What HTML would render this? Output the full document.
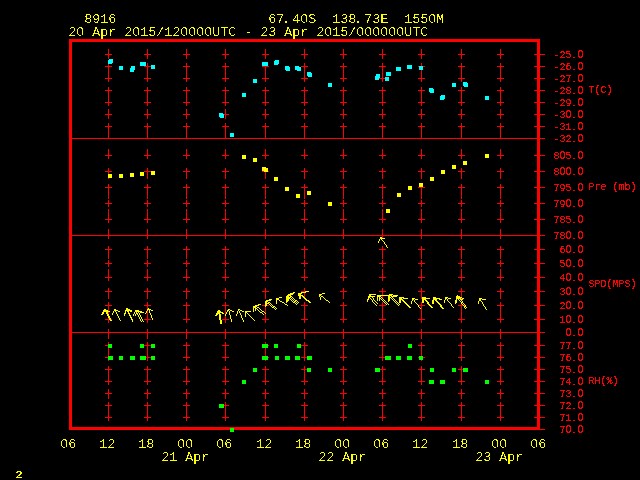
<!DOCTYPE html>
<html><head><meta charset="utf-8"><style>
html,body{margin:0;padding:0;background:#000;width:640px;height:480px;overflow:hidden}
svg{display:block}
text{font-family:"Liberation Mono",monospace;white-space:pre}
</style></head><body>
<svg width="640" height="480" viewBox="0 0 640 480">
<rect width="640" height="480" fill="#000"/>
<g shape-rendering="crispEdges"><path fill="#f00" d="M69 39h471v3h-471zM69 427h471v1h-471zM69 42h3v96h-3zM69 139h3v96h-3zM69 236h3v96h-3zM69 333h3v94h-3zM537 42h3v12h-3zM537 55h3v11h-3zM537 67h3v11h-3zM537 79h3v11h-3zM537 91h3v11h-3zM537 103h3v11h-3zM537 115h3v11h-3zM537 127h3v11h-3zM537 139h3v16h-3zM537 156h3v15h-3zM537 172h3v15h-3zM537 188h3v15h-3zM537 204h3v15h-3zM537 220h3v15h-3zM537 236h3v13h-3zM537 250h3v13h-3zM537 264h3v13h-3zM537 278h3v13h-3zM537 292h3v13h-3zM537 306h3v13h-3zM537 320h3v12h-3zM537 333h3v12h-3zM537 346h3v11h-3zM537 358h3v11h-3zM537 370h3v11h-3zM537 382h3v11h-3zM537 394h3v11h-3zM537 406h3v11h-3zM537 418h3v9h-3zM108 49h1v5h-1zM108 55h1v4h-1zM108 64h1v2h-1zM108 67h1v11h-1zM108 79h1v3h-1zM108 87h1v3h-1zM108 91h1v11h-1zM108 103h1v3h-1zM108 109h1v5h-1zM108 115h1v4h-1zM108 123h1v3h-1zM108 127h1v11h-1zM108 149h1v6h-1zM108 156h1v3h-1zM108 168h1v3h-1zM108 172h1v2h-1zM108 178h1v1h-1zM108 184h1v3h-1zM108 188h1v11h-1zM108 200h1v3h-1zM108 204h1v3h-1zM108 209h1v10h-1zM108 220h1v3h-1zM108 229h1v6h-1zM108 236h1v3h-1zM108 246h1v3h-1zM108 250h1v9h-1zM108 260h1v3h-1zM108 264h1v3h-1zM108 269h1v8h-1zM108 278h1v3h-1zM108 288h1v3h-1zM108 292h1v7h-1zM108 302h1v3h-1zM108 306h1v5h-1zM108 312h1v2h-1zM108 318h1v1h-1zM108 320h1v3h-1zM108 329h1v3h-1zM108 333h1v6h-1zM108 342h1v2h-1zM108 348h1v8h-1zM108 360h1v1h-1zM108 366h1v3h-1zM108 370h1v11h-1zM108 382h1v3h-1zM108 389h1v4h-1zM108 394h1v5h-1zM108 402h1v3h-1zM108 406h1v11h-1zM108 418h1v3h-1zM147 49h1v5h-1zM147 55h1v4h-1zM147 63h1v3h-1zM147 67h1v11h-1zM147 79h1v3h-1zM147 87h1v3h-1zM147 91h1v11h-1zM147 103h1v3h-1zM147 109h1v5h-1zM147 115h1v4h-1zM147 123h1v3h-1zM147 127h1v11h-1zM147 149h1v6h-1zM147 156h1v3h-1zM147 168h1v3h-1zM147 172h1v7h-1zM147 184h1v3h-1zM147 188h1v11h-1zM147 200h1v3h-1zM147 204h1v3h-1zM147 209h1v10h-1zM147 220h1v3h-1zM147 229h1v6h-1zM147 236h1v3h-1zM147 246h1v3h-1zM147 250h1v9h-1zM147 260h1v3h-1zM147 264h1v3h-1zM147 269h1v8h-1zM147 278h1v3h-1zM147 288h1v3h-1zM147 292h1v7h-1zM147 302h1v3h-1zM147 306h1v3h-1zM147 311h1v8h-1zM147 320h1v3h-1zM147 329h1v3h-1zM147 333h1v6h-1zM147 342h1v3h-1zM147 346h1v11h-1zM147 358h1v3h-1zM147 366h1v3h-1zM147 370h1v11h-1zM147 382h1v3h-1zM147 389h1v4h-1zM147 394h1v5h-1zM147 402h1v3h-1zM147 406h1v11h-1zM147 418h1v3h-1zM186 49h1v5h-1zM186 55h1v4h-1zM186 63h1v3h-1zM186 67h1v11h-1zM186 79h1v3h-1zM186 87h1v3h-1zM186 91h1v11h-1zM186 103h1v3h-1zM186 109h1v5h-1zM186 115h1v4h-1zM186 123h1v3h-1zM186 127h1v11h-1zM186 149h1v6h-1zM186 156h1v3h-1zM186 168h1v3h-1zM186 172h1v7h-1zM186 184h1v3h-1zM186 188h1v11h-1zM186 200h1v3h-1zM186 204h1v3h-1zM186 209h1v10h-1zM186 220h1v3h-1zM186 229h1v6h-1zM186 236h1v3h-1zM186 246h1v3h-1zM186 250h1v9h-1zM186 260h1v3h-1zM186 264h1v3h-1zM186 269h1v8h-1zM186 278h1v3h-1zM186 288h1v3h-1zM186 292h1v7h-1zM186 302h1v3h-1zM186 306h1v13h-1zM186 320h1v3h-1zM186 329h1v3h-1zM186 333h1v6h-1zM186 342h1v3h-1zM186 346h1v11h-1zM186 358h1v3h-1zM186 366h1v3h-1zM186 370h1v11h-1zM186 382h1v3h-1zM186 389h1v4h-1zM186 394h1v5h-1zM186 402h1v3h-1zM186 406h1v11h-1zM186 418h1v3h-1zM225 49h1v5h-1zM225 55h1v4h-1zM225 63h1v3h-1zM225 67h1v11h-1zM225 79h1v3h-1zM225 87h1v3h-1zM225 91h1v11h-1zM225 103h1v3h-1zM225 109h1v5h-1zM225 115h1v4h-1zM225 123h1v3h-1zM225 127h1v11h-1zM225 149h1v6h-1zM225 156h1v3h-1zM225 168h1v3h-1zM225 172h1v7h-1zM225 184h1v3h-1zM225 188h1v11h-1zM225 200h1v3h-1zM225 204h1v3h-1zM225 209h1v10h-1zM225 220h1v3h-1zM225 229h1v6h-1zM225 236h1v3h-1zM225 246h1v3h-1zM225 250h1v9h-1zM225 260h1v3h-1zM225 264h1v3h-1zM225 269h1v8h-1zM225 278h1v3h-1zM225 288h1v3h-1zM225 292h1v7h-1zM225 302h1v3h-1zM225 306h1v8h-1zM225 316h1v3h-1zM225 320h1v3h-1zM225 329h1v3h-1zM225 333h1v6h-1zM225 342h1v3h-1zM225 346h1v11h-1zM225 358h1v3h-1zM225 366h1v3h-1zM225 370h1v11h-1zM225 382h1v3h-1zM225 389h1v4h-1zM225 394h1v5h-1zM225 402h1v3h-1zM225 406h1v11h-1zM225 418h1v3h-1zM265 49h1v5h-1zM265 55h1v4h-1zM265 67h1v11h-1zM265 79h1v3h-1zM265 87h1v3h-1zM265 91h1v11h-1zM265 103h1v3h-1zM265 109h1v5h-1zM265 115h1v4h-1zM265 123h1v3h-1zM265 127h1v11h-1zM265 149h1v6h-1zM265 156h1v3h-1zM265 172h1v7h-1zM265 184h1v3h-1zM265 188h1v11h-1zM265 200h1v3h-1zM265 204h1v3h-1zM265 209h1v10h-1zM265 220h1v3h-1zM265 229h1v6h-1zM265 236h1v3h-1zM265 246h1v3h-1zM265 250h1v9h-1zM265 260h1v3h-1zM265 264h1v3h-1zM265 269h1v8h-1zM265 278h1v3h-1zM265 288h1v3h-1zM265 292h1v7h-1zM265 307h1v6h-1zM265 314h1v5h-1zM265 320h1v3h-1zM265 329h1v3h-1zM265 333h1v6h-1zM265 342h1v2h-1zM265 348h1v8h-1zM265 360h1v1h-1zM265 366h1v3h-1zM265 370h1v11h-1zM265 382h1v3h-1zM265 389h1v4h-1zM265 394h1v5h-1zM265 402h1v3h-1zM265 406h1v11h-1zM265 418h1v3h-1zM304 49h1v5h-1zM304 55h1v4h-1zM304 63h1v3h-1zM304 67h1v11h-1zM304 79h1v3h-1zM304 87h1v3h-1zM304 91h1v11h-1zM304 103h1v3h-1zM304 109h1v5h-1zM304 115h1v4h-1zM304 123h1v3h-1zM304 127h1v11h-1zM304 149h1v6h-1zM304 156h1v3h-1zM304 168h1v3h-1zM304 172h1v7h-1zM304 184h1v3h-1zM304 188h1v11h-1zM304 200h1v3h-1zM304 204h1v3h-1zM304 209h1v10h-1zM304 220h1v3h-1zM304 229h1v6h-1zM304 236h1v3h-1zM304 246h1v3h-1zM304 250h1v9h-1zM304 260h1v3h-1zM304 264h1v3h-1zM304 269h1v8h-1zM304 278h1v3h-1zM304 288h1v3h-1zM304 293h1v4h-1zM304 302h1v3h-1zM304 306h1v13h-1zM304 320h1v3h-1zM304 329h1v3h-1zM304 333h1v6h-1zM304 342h1v3h-1zM304 346h1v11h-1zM304 358h1v3h-1zM304 366h1v3h-1zM304 370h1v11h-1zM304 382h1v3h-1zM304 389h1v4h-1zM304 394h1v5h-1zM304 402h1v3h-1zM304 406h1v11h-1zM304 418h1v3h-1zM343 49h1v5h-1zM343 55h1v4h-1zM343 63h1v3h-1zM343 67h1v11h-1zM343 79h1v3h-1zM343 87h1v3h-1zM343 91h1v11h-1zM343 103h1v3h-1zM343 109h1v5h-1zM343 115h1v4h-1zM343 123h1v3h-1zM343 127h1v11h-1zM343 149h1v6h-1zM343 156h1v3h-1zM343 168h1v3h-1zM343 172h1v7h-1zM343 184h1v3h-1zM343 188h1v11h-1zM343 200h1v3h-1zM343 204h1v3h-1zM343 209h1v10h-1zM343 220h1v3h-1zM343 229h1v6h-1zM343 236h1v3h-1zM343 246h1v3h-1zM343 250h1v9h-1zM343 260h1v3h-1zM343 264h1v3h-1zM343 269h1v8h-1zM343 278h1v3h-1zM343 288h1v3h-1zM343 292h1v7h-1zM343 302h1v3h-1zM343 306h1v13h-1zM343 320h1v3h-1zM343 329h1v3h-1zM343 333h1v6h-1zM343 342h1v3h-1zM343 346h1v11h-1zM343 358h1v3h-1zM343 366h1v3h-1zM343 370h1v11h-1zM343 382h1v3h-1zM343 389h1v4h-1zM343 394h1v5h-1zM343 402h1v3h-1zM343 406h1v11h-1zM343 418h1v3h-1zM382 49h1v5h-1zM382 55h1v4h-1zM382 63h1v3h-1zM382 67h1v11h-1zM382 79h1v3h-1zM382 87h1v3h-1zM382 91h1v11h-1zM382 103h1v3h-1zM382 109h1v5h-1zM382 115h1v4h-1zM382 123h1v3h-1zM382 127h1v11h-1zM382 149h1v6h-1zM382 156h1v3h-1zM382 168h1v3h-1zM382 172h1v7h-1zM382 184h1v3h-1zM382 188h1v11h-1zM382 200h1v3h-1zM382 204h1v3h-1zM382 209h1v10h-1zM382 220h1v3h-1zM382 229h1v6h-1zM382 236h1v2h-1zM382 246h1v3h-1zM382 250h1v9h-1zM382 260h1v3h-1zM382 264h1v3h-1zM382 269h1v8h-1zM382 278h1v3h-1zM382 288h1v3h-1zM382 292h1v3h-1zM382 296h1v2h-1zM382 302h1v3h-1zM382 306h1v13h-1zM382 320h1v3h-1zM382 329h1v3h-1zM382 333h1v6h-1zM382 342h1v3h-1zM382 346h1v11h-1zM382 358h1v3h-1zM382 366h1v3h-1zM382 370h1v11h-1zM382 382h1v3h-1zM382 389h1v4h-1zM382 394h1v5h-1zM382 402h1v3h-1zM382 406h1v11h-1zM382 418h1v3h-1zM421 49h1v5h-1zM421 55h1v4h-1zM421 63h1v3h-1zM421 70h1v8h-1zM421 79h1v3h-1zM421 87h1v3h-1zM421 91h1v11h-1zM421 103h1v3h-1zM421 109h1v5h-1zM421 115h1v4h-1zM421 123h1v3h-1zM421 127h1v11h-1zM421 149h1v6h-1zM421 156h1v3h-1zM421 168h1v3h-1zM421 172h1v7h-1zM421 188h1v11h-1zM421 200h1v3h-1zM421 204h1v3h-1zM421 209h1v10h-1zM421 220h1v3h-1zM421 229h1v6h-1zM421 236h1v3h-1zM421 246h1v3h-1zM421 250h1v9h-1zM421 260h1v3h-1zM421 264h1v3h-1zM421 269h1v8h-1zM421 278h1v3h-1zM421 288h1v3h-1zM421 292h1v7h-1zM421 302h1v3h-1zM421 306h1v13h-1zM421 320h1v3h-1zM421 329h1v3h-1zM421 333h1v6h-1zM421 342h1v3h-1zM421 346h1v10h-1zM421 360h1v1h-1zM421 366h1v3h-1zM421 370h1v11h-1zM421 382h1v3h-1zM421 389h1v4h-1zM421 394h1v5h-1zM421 402h1v3h-1zM421 406h1v11h-1zM421 418h1v3h-1zM461 49h1v5h-1zM461 55h1v4h-1zM461 63h1v3h-1zM461 67h1v11h-1zM461 79h1v3h-1zM461 87h1v3h-1zM461 91h1v11h-1zM461 103h1v3h-1zM461 109h1v5h-1zM461 115h1v4h-1zM461 123h1v3h-1zM461 127h1v11h-1zM461 149h1v6h-1zM461 156h1v3h-1zM461 168h1v3h-1zM461 172h1v7h-1zM461 184h1v3h-1zM461 188h1v11h-1zM461 200h1v3h-1zM461 204h1v3h-1zM461 209h1v10h-1zM461 220h1v3h-1zM461 229h1v6h-1zM461 236h1v3h-1zM461 246h1v3h-1zM461 250h1v9h-1zM461 260h1v3h-1zM461 264h1v3h-1zM461 269h1v8h-1zM461 278h1v3h-1zM461 288h1v3h-1zM461 292h1v5h-1zM461 298h1v1h-1zM461 304h1v1h-1zM461 306h1v13h-1zM461 320h1v3h-1zM461 329h1v3h-1zM461 333h1v6h-1zM461 342h1v3h-1zM461 346h1v11h-1zM461 358h1v3h-1zM461 366h1v3h-1zM461 370h1v11h-1zM461 382h1v3h-1zM461 389h1v4h-1zM461 394h1v5h-1zM461 402h1v3h-1zM461 406h1v11h-1zM461 418h1v3h-1zM500 49h1v5h-1zM500 55h1v4h-1zM500 63h1v3h-1zM500 67h1v11h-1zM500 79h1v3h-1zM500 87h1v3h-1zM500 91h1v11h-1zM500 103h1v3h-1zM500 109h1v5h-1zM500 115h1v4h-1zM500 123h1v3h-1zM500 127h1v11h-1zM500 149h1v6h-1zM500 156h1v3h-1zM500 168h1v3h-1zM500 172h1v7h-1zM500 184h1v3h-1zM500 188h1v11h-1zM500 200h1v3h-1zM500 204h1v3h-1zM500 209h1v10h-1zM500 220h1v3h-1zM500 229h1v6h-1zM500 236h1v3h-1zM500 246h1v3h-1zM500 250h1v9h-1zM500 260h1v3h-1zM500 264h1v3h-1zM500 269h1v8h-1zM500 278h1v3h-1zM500 288h1v3h-1zM500 292h1v7h-1zM500 302h1v3h-1zM500 306h1v13h-1zM500 320h1v3h-1zM500 329h1v3h-1zM500 333h1v6h-1zM500 342h1v3h-1zM500 346h1v11h-1zM500 358h1v3h-1zM500 366h1v3h-1zM500 370h1v11h-1zM500 382h1v3h-1zM500 389h1v4h-1zM500 394h1v5h-1zM500 402h1v3h-1zM500 406h1v11h-1zM500 418h1v3h-1zM105 54h7v1h-7zM105 66h7v1h-7zM105 78h7v1h-7zM105 90h7v1h-7zM105 102h7v1h-7zM105 114h7v1h-7zM105 126h7v1h-7zM105 155h7v1h-7zM105 171h7v1h-7zM105 187h7v1h-7zM105 203h7v1h-7zM105 219h7v1h-7zM105 249h7v1h-7zM105 263h7v1h-7zM105 277h7v1h-7zM105 291h7v1h-7zM105 305h7v1h-7zM105 369h7v1h-7zM105 381h7v1h-7zM105 393h7v1h-7zM105 405h7v1h-7zM105 417h7v1h-7zM144 54h7v1h-7zM144 66h7v1h-7zM144 78h7v1h-7zM144 90h7v1h-7zM144 102h7v1h-7zM144 114h7v1h-7zM144 126h7v1h-7zM144 155h7v1h-7zM144 171h7v1h-7zM144 187h7v1h-7zM144 203h7v1h-7zM144 219h7v1h-7zM144 249h7v1h-7zM144 263h7v1h-7zM144 277h7v1h-7zM144 291h7v1h-7zM144 305h7v1h-7zM144 319h7v1h-7zM144 345h7v1h-7zM144 369h7v1h-7zM144 381h7v1h-7zM144 393h7v1h-7zM144 405h7v1h-7zM144 417h7v1h-7zM183 54h7v1h-7zM183 66h7v1h-7zM183 78h7v1h-7zM183 90h7v1h-7zM183 102h7v1h-7zM183 114h7v1h-7zM183 126h7v1h-7zM183 155h7v1h-7zM183 171h7v1h-7zM183 187h7v1h-7zM183 203h7v1h-7zM183 219h7v1h-7zM183 249h7v1h-7zM183 263h7v1h-7zM183 277h7v1h-7zM183 291h7v1h-7zM183 305h7v1h-7zM183 319h7v1h-7zM183 345h7v1h-7zM183 357h7v1h-7zM183 369h7v1h-7zM183 381h7v1h-7zM183 393h7v1h-7zM183 405h7v1h-7zM183 417h7v1h-7zM222 54h7v1h-7zM222 66h7v1h-7zM222 78h7v1h-7zM222 90h7v1h-7zM222 102h7v1h-7zM222 126h7v1h-7zM222 155h7v1h-7zM222 171h7v1h-7zM222 187h7v1h-7zM222 203h7v1h-7zM222 219h7v1h-7zM222 249h7v1h-7zM222 263h7v1h-7zM222 277h7v1h-7zM222 291h7v1h-7zM222 305h7v1h-7zM222 319h7v1h-7zM222 345h7v1h-7zM222 357h7v1h-7zM222 369h7v1h-7zM222 381h7v1h-7zM222 393h7v1h-7zM222 417h7v1h-7zM262 54h7v1h-7zM262 66h7v1h-7zM262 78h7v1h-7zM262 90h7v1h-7zM262 102h7v1h-7zM262 114h7v1h-7zM262 126h7v1h-7zM262 155h7v1h-7zM262 187h7v1h-7zM262 203h7v1h-7zM262 219h7v1h-7zM262 249h7v1h-7zM262 263h7v1h-7zM262 277h7v1h-7zM262 291h7v1h-7zM262 319h7v1h-7zM262 369h7v1h-7zM262 381h7v1h-7zM262 393h7v1h-7zM262 405h7v1h-7zM262 417h7v1h-7zM301 54h7v1h-7zM301 66h7v1h-7zM301 78h7v1h-7zM301 90h7v1h-7zM301 102h7v1h-7zM301 114h7v1h-7zM301 126h7v1h-7zM301 155h7v1h-7zM301 171h7v1h-7zM301 187h7v1h-7zM301 203h7v1h-7zM301 219h7v1h-7zM301 249h7v1h-7zM301 263h7v1h-7zM301 277h7v1h-7zM301 305h7v1h-7zM301 319h7v1h-7zM301 345h7v1h-7zM301 381h7v1h-7zM301 393h7v1h-7zM301 405h7v1h-7zM301 417h7v1h-7zM340 54h7v1h-7zM340 66h7v1h-7zM340 78h7v1h-7zM340 90h7v1h-7zM340 102h7v1h-7zM340 114h7v1h-7zM340 126h7v1h-7zM340 155h7v1h-7zM340 171h7v1h-7zM340 187h7v1h-7zM340 203h7v1h-7zM340 219h7v1h-7zM340 249h7v1h-7zM340 263h7v1h-7zM340 277h7v1h-7zM340 291h7v1h-7zM340 305h7v1h-7zM340 319h7v1h-7zM340 345h7v1h-7zM340 357h7v1h-7zM340 369h7v1h-7zM340 381h7v1h-7zM340 393h7v1h-7zM340 405h7v1h-7zM340 417h7v1h-7zM379 54h7v1h-7zM379 66h7v1h-7zM379 90h7v1h-7zM379 102h7v1h-7zM379 114h7v1h-7zM379 126h7v1h-7zM379 155h7v1h-7zM379 171h7v1h-7zM379 187h7v1h-7zM379 203h7v1h-7zM379 219h7v1h-7zM379 249h7v1h-7zM379 263h7v1h-7zM379 277h7v1h-7zM379 291h7v1h-7zM379 305h7v1h-7zM379 319h7v1h-7zM379 345h7v1h-7zM379 381h7v1h-7zM379 393h7v1h-7zM379 405h7v1h-7zM379 417h7v1h-7zM418 54h7v1h-7zM418 78h7v1h-7zM418 90h7v1h-7zM418 102h7v1h-7zM418 114h7v1h-7zM418 126h7v1h-7zM418 155h7v1h-7zM418 171h7v1h-7zM418 187h7v1h-7zM418 203h7v1h-7zM418 219h7v1h-7zM418 249h7v1h-7zM418 263h7v1h-7zM418 277h7v1h-7zM418 291h7v1h-7zM418 319h7v1h-7zM418 345h7v1h-7zM418 369h7v1h-7zM418 381h7v1h-7zM418 393h7v1h-7zM418 405h7v1h-7zM418 417h7v1h-7zM458 54h7v1h-7zM458 66h7v1h-7zM458 78h7v1h-7zM458 90h7v1h-7zM458 102h7v1h-7zM458 114h7v1h-7zM458 126h7v1h-7zM458 155h7v1h-7zM458 171h7v1h-7zM458 187h7v1h-7zM458 203h7v1h-7zM458 219h7v1h-7zM458 249h7v1h-7zM458 263h7v1h-7zM458 277h7v1h-7zM458 291h7v1h-7zM458 319h7v1h-7zM458 345h7v1h-7zM458 357h7v1h-7zM458 381h7v1h-7zM458 393h7v1h-7zM458 405h7v1h-7zM458 417h7v1h-7zM497 54h7v1h-7zM497 66h7v1h-7zM497 78h7v1h-7zM497 90h7v1h-7zM497 102h7v1h-7zM497 114h7v1h-7zM497 126h7v1h-7zM497 155h7v1h-7zM497 171h7v1h-7zM497 187h7v1h-7zM497 203h7v1h-7zM497 219h7v1h-7zM497 249h7v1h-7zM497 263h7v1h-7zM497 277h7v1h-7zM497 291h7v1h-7zM497 305h7v1h-7zM497 319h7v1h-7zM497 345h7v1h-7zM497 357h7v1h-7zM497 369h7v1h-7zM497 381h7v1h-7zM497 393h7v1h-7zM497 405h7v1h-7zM497 417h7v1h-7zM534 54h11v1h-11zM534 66h11v1h-11zM534 78h11v1h-11zM534 90h11v1h-11zM534 102h11v1h-11zM534 114h11v1h-11zM534 126h11v1h-11zM534 155h11v1h-11zM534 171h11v1h-11zM534 187h11v1h-11zM534 203h11v1h-11zM534 219h11v1h-11zM534 249h11v1h-11zM534 263h11v1h-11zM534 277h11v1h-11zM534 291h11v1h-11zM534 305h11v1h-11zM534 319h11v1h-11zM534 345h11v1h-11zM534 357h11v1h-11zM534 369h11v1h-11zM534 381h11v1h-11zM534 393h11v1h-11zM534 405h11v1h-11zM534 417h11v1h-11zM418 66h1v1h-1zM418 357h1v1h-1zM423 66h2v1h-2zM423 357h2v1h-2zM379 78h6v1h-6zM379 357h6v1h-6zM224 114h5v1h-5zM224 405h5v1h-5zM69 138h476v1h-476zM69 235h476v1h-476zM69 332h476v1h-476zM262 171h2v1h-2zM268 171h1v1h-1zM268 345h1v1h-1zM268 357h1v1h-1zM301 291h4v1h-4zM262 305h3v1h-3zM267 305h2v1h-2zM419 305h6v1h-6zM458 305h5v1h-5zM458 369h5v1h-5zM464 305h1v1h-1zM105 319h4v1h-4zM111 319h1v1h-1zM105 345h3v1h-3zM105 357h3v1h-3zM146 357h5v1h-5zM301 357h6v1h-6zM301 369h6v1h-6zM380 369h6v1h-6zM69 428h161v2h-161zM234 428h306v1h-306zM234 429h311v1h-311z"/><path fill="#0ff" d="M109 59h4v1h-4zM108 60h5v3h-5zM275 60h4v1h-4zM274 61h5v3h-5zM140 62h6v4h-6zM262 62h6v4h-6zM108 63h4v1h-4zM274 64h4v1h-4zM151 65h4v4h-4zM407 65h5v4h-5zM119 66h4v4h-4zM131 66h4v2h-4zM285 66h4v1h-4zM295 66h4v1h-4zM419 66h4v4h-4zM285 67h5v3h-5zM295 67h6v3h-6zM396 67h5v4h-5zM130 68h5v2h-5zM130 70h4v2h-4zM286 70h4v1h-4zM297 70h4v1h-4zM307 72h4v1h-4zM386 72h5v4h-5zM307 73h5v3h-5zM376 74h4v2h-4zM308 76h4v1h-4zM375 76h5v2h-5zM385 77h4v4h-4zM375 78h4v2h-4zM253 79h4v4h-4zM463 82h4v1h-4zM328 83h4v4h-4zM452 83h4v4h-4zM463 83h5v3h-5zM464 86h4v1h-4zM429 88h4v1h-4zM429 89h5v3h-5zM430 92h4v1h-4zM242 93h4v4h-4zM441 95h4v1h-4zM440 96h5v3h-5zM485 96h4v4h-4zM440 99h4v1h-4zM219 113h4v1h-4zM219 114h5v3h-5zM220 117h4v1h-4zM230 133h4v4h-4z"/><path fill="#ff0" d="M485 154h4v4h-4zM242 155h4v4h-4zM253 158h4v4h-4zM253 306h4v1h-4zM463 161h4v4h-4zM452 165h4v4h-4zM262 167h4v1h-4zM262 168h6v3h-6zM441 170h4v4h-4zM151 171h4v4h-4zM264 171h4v1h-4zM140 172h4v4h-4zM140 312h4v1h-4zM130 173h4v4h-4zM108 174h4v4h-4zM119 174h4v4h-4zM274 177h4v4h-4zM430 177h4v4h-4zM419 183h4v4h-4zM408 186h4v4h-4zM285 187h4v4h-4zM307 191h4v4h-4zM397 193h4v4h-4zM296 194h4v4h-4zM328 202h4v4h-4zM386 209h4v4h-4zM380 237h2v1h-2zM380 238h5v1h-5zM379 239h1v2h-1zM379 297h1v1h-1zM379 299h1v2h-1zM381 239h1v1h-1zM381 297h1v1h-1zM381 299h1v1h-1zM382 240h1v1h-1zM382 298h1v1h-1zM382 300h1v1h-1zM378 241h1v2h-1zM383 241h1v1h-1zM383 299h1v1h-1zM383 301h1v1h-1zM384 242h1v2h-1zM384 300h1v1h-1zM384 302h1v1h-1zM385 244h1v1h-1zM385 301h1v1h-1zM385 303h1v1h-1zM386 245h1v2h-1zM386 302h1v1h-1zM386 304h1v1h-1zM387 247h1v1h-1zM387 303h1v1h-1zM305 291h4v1h-4zM293 292h2v1h-2zM293 302h2v1h-2zM301 292h5v1h-5zM290 293h4v1h-4zM298 293h4v1h-4zM322 293h3v1h-3zM288 294h5v1h-5zM298 294h3v1h-3zM319 294h3v1h-3zM369 294h7v1h-7zM389 294h4v1h-4zM287 295h4v1h-4zM298 295h5v1h-5zM319 295h2v1h-2zM369 295h2v1h-2zM377 295h15v1h-15zM393 295h5v1h-5zM457 295h1v1h-1zM286 296h3v1h-3zM286 299h3v2h-3zM290 296h2v1h-2zM299 296h2v3h-2zM302 296h2v1h-2zM319 296h1v1h-1zM321 296h2v1h-2zM368 296h7v1h-7zM377 296h4v1h-4zM388 296h2v1h-2zM388 298h2v3h-2zM391 296h6v1h-6zM456 296h4v1h-4zM279 297h3v1h-3zM286 297h5v1h-5zM292 297h1v1h-1zM292 299h1v1h-1zM292 301h1v1h-1zM303 297h2v1h-2zM320 297h1v3h-1zM323 297h1v1h-1zM368 297h2v1h-2zM372 297h1v1h-1zM372 300h1v2h-1zM377 297h1v4h-1zM377 303h1v1h-1zM388 297h3v1h-3zM392 297h1v1h-1zM392 299h1v1h-1zM399 297h5v1h-5zM422 297h4v1h-4zM422 299h4v1h-4zM433 297h3v1h-3zM445 297h3v1h-3zM456 297h6v1h-6zM276 298h3v2h-3zM286 298h4v1h-4zM291 298h1v1h-1zM291 300h1v1h-1zM293 298h1v1h-1zM293 300h1v1h-1zM304 298h2v1h-2zM324 298h1v1h-1zM368 298h1v1h-1zM370 298h1v1h-1zM373 298h1v2h-1zM373 302h1v1h-1zM379 298h2v1h-2zM391 298h1v1h-1zM393 298h1v1h-1zM393 300h1v1h-1zM399 298h3v1h-3zM403 298h5v1h-5zM412 298h3v1h-3zM422 298h8v1h-8zM433 298h7v1h-7zM445 298h2v1h-2zM448 298h3v1h-3zM456 298h5v1h-5zM462 298h2v1h-2zM479 298h3v1h-3zM269 299h3v1h-3zM290 299h1v1h-1zM294 299h1v1h-1zM305 299h2v1h-2zM325 299h1v1h-1zM367 299h2v1h-2zM371 299h1v1h-1zM394 299h1v1h-1zM394 301h1v1h-1zM399 299h4v1h-4zM412 299h2v1h-2zM415 299h3v1h-3zM433 299h4v1h-4zM439 299h3v1h-3zM445 299h1v1h-1zM447 299h1v2h-1zM456 299h1v1h-1zM458 299h1v1h-1zM460 299h3v1h-3zM479 299h2v2h-2zM482 299h4v1h-4zM266 300h5v1h-5zM276 300h1v4h-1zM276 308h1v1h-1zM279 300h1v1h-1zM295 300h2v1h-2zM306 300h3v1h-3zM326 300h2v1h-2zM367 300h1v2h-1zM374 300h1v1h-1zM374 303h1v1h-1zM395 300h1v1h-1zM395 302h1v1h-1zM399 300h2v3h-2zM402 300h2v1h-2zM412 300h1v1h-1zM414 300h1v2h-1zM422 300h2v3h-2zM425 300h2v1h-2zM432 300h2v4h-2zM435 300h2v1h-2zM444 300h1v3h-1zM455 300h2v3h-2zM459 300h1v1h-1zM461 300h1v1h-1zM461 303h1v1h-1zM265 301h3v1h-3zM280 301h2v1h-2zM286 301h2v1h-2zM294 301h2v1h-2zM297 301h1v1h-1zM297 303h1v1h-1zM308 301h2v1h-2zM328 301h1v1h-1zM375 301h1v1h-1zM375 304h1v1h-1zM388 301h1v1h-1zM388 304h1v1h-1zM396 301h1v1h-1zM396 303h1v1h-1zM403 301h2v1h-2zM411 301h1v3h-1zM426 301h2v1h-2zM436 301h2v1h-2zM448 301h1v1h-1zM460 301h1v1h-1zM462 301h1v1h-1zM462 304h1v1h-1zM478 301h1v3h-1zM481 301h1v1h-1zM265 302h2v1h-2zM265 304h2v2h-2zM268 302h2v1h-2zM282 302h2v1h-2zM286 302h1v1h-1zM296 302h1v1h-1zM296 304h1v1h-1zM298 302h1v1h-1zM309 302h2v1h-2zM329 302h1v1h-1zM376 302h1v1h-1zM376 305h1v1h-1zM397 302h1v1h-1zM397 304h1v1h-1zM404 302h2v1h-2zM415 302h1v1h-1zM427 302h2v2h-2zM437 302h2v1h-2zM449 302h1v1h-1zM461 302h2v1h-2zM482 302h1v2h-1zM265 303h4v1h-4zM270 303h1v1h-1zM270 305h1v1h-1zM284 303h1v1h-1zM295 303h1v1h-1zM398 303h1v1h-1zM398 305h1v1h-1zM405 303h2v1h-2zM416 303h1v1h-1zM438 303h2v1h-2zM450 303h1v1h-1zM455 303h1v1h-1zM463 303h1v1h-1zM463 305h1v1h-1zM258 304h3v1h-3zM269 304h1v1h-1zM271 304h1v1h-1zM271 306h1v1h-1zM285 304h2v1h-2zM399 304h1v1h-1zM406 304h2v1h-2zM417 304h1v1h-1zM428 304h2v1h-2zM439 304h2v1h-2zM451 304h1v2h-1zM464 304h1v1h-1zM464 307h1v1h-1zM483 304h1v2h-1zM255 305h4v1h-4zM272 305h1v1h-1zM287 305h1v1h-1zM407 305h2v1h-2zM418 305h1v2h-1zM429 305h2v1h-2zM440 305h2v2h-2zM465 305h1v1h-1zM465 308h1v1h-1zM265 306h1v1h-1zM265 313h1v1h-1zM273 306h2v1h-2zM408 306h2v1h-2zM430 306h2v1h-2zM452 306h1v1h-1zM464 306h2v1h-2zM484 306h1v1h-1zM253 307h3v1h-3zM257 307h2v1h-2zM272 307h2v1h-2zM275 307h1v1h-1zM275 309h1v1h-1zM409 307h2v1h-2zM419 307h1v1h-1zM431 307h2v1h-2zM441 307h2v1h-2zM453 307h1v1h-1zM466 307h1v1h-1zM485 307h1v2h-1zM126 308h2v1h-2zM148 308h1v1h-1zM253 308h1v4h-1zM253 319h1v1h-1zM255 308h2v1h-2zM259 308h1v1h-1zM259 311h1v1h-1zM274 308h1v1h-1zM420 308h1v1h-1zM442 308h2v1h-2zM104 309h2v1h-2zM114 309h2v1h-2zM126 309h4v1h-4zM147 309h4v1h-4zM228 309h2v1h-2zM238 309h2v1h-2zM255 309h1v2h-1zM257 309h1v1h-1zM260 309h1v1h-1zM486 309h1v1h-1zM103 310h5v1h-5zM114 310h4v1h-4zM125 310h7v1h-7zM135 310h4v1h-4zM147 310h1v1h-1zM149 310h1v3h-1zM151 310h2v1h-2zM218 310h2v1h-2zM227 310h2v1h-2zM230 310h2v1h-2zM238 310h1v1h-1zM240 310h2v1h-2zM258 310h1v1h-1zM261 310h1v1h-1zM103 311h7v1h-7zM113 311h1v2h-1zM115 311h1v1h-1zM118 311h2v1h-2zM125 311h1v2h-1zM127 311h2v1h-2zM130 311h2v1h-2zM130 317h2v1h-2zM135 311h7v1h-7zM146 311h1v2h-1zM217 311h4v1h-4zM227 311h1v1h-1zM229 311h1v4h-1zM232 311h2v1h-2zM237 311h1v3h-1zM239 311h1v2h-1zM242 311h2v1h-2zM245 311h6v1h-6zM262 311h2v1h-2zM102 312h2v2h-2zM106 312h2v2h-2zM116 312h1v2h-1zM128 312h1v1h-1zM134 312h1v2h-1zM136 312h1v1h-1zM138 312h1v1h-1zM138 315h1v2h-1zM217 312h6v1h-6zM226 312h1v2h-1zM245 312h2v1h-2zM260 312h2v1h-2zM264 312h1v1h-1zM112 313h1v2h-1zM124 313h2v1h-2zM128 313h2v1h-2zM136 313h2v1h-2zM139 313h1v2h-1zM139 317h1v2h-1zM145 313h1v1h-1zM150 313h1v2h-1zM216 313h4v1h-4zM222 313h2v1h-2zM240 313h1v2h-1zM245 313h1v4h-1zM247 313h1v1h-1zM262 313h1v1h-1zM101 314h2v1h-2zM107 314h2v2h-2zM117 314h1v2h-1zM124 314h1v2h-1zM129 314h1v1h-1zM133 314h1v2h-1zM135 314h1v2h-1zM137 314h1v1h-1zM216 314h2v1h-2zM219 314h2v6h-2zM225 314h1v2h-1zM236 314h1v2h-1zM248 314h1v1h-1zM263 314h1v1h-1zM129 315h2v1h-2zM140 315h1v2h-1zM140 319h1v2h-1zM151 315h1v3h-1zM215 315h2v1h-2zM230 315h1v4h-1zM241 315h1v3h-1zM249 315h1v1h-1zM108 316h2v2h-2zM118 316h1v2h-1zM130 316h1v1h-1zM250 316h1v1h-1zM141 317h1v2h-1zM141 321h1v1h-1zM251 317h1v1h-1zM109 318h2v2h-2zM119 318h1v2h-1zM131 318h1v1h-1zM152 318h1v2h-1zM242 318h1v2h-1zM252 318h1v1h-1zM131 319h2v1h-2zM142 319h1v2h-1zM231 319h1v3h-1zM110 320h2v1h-2zM120 320h1v1h-1zM132 320h1v2h-1zM220 320h2v4h-2zM243 320h1v2h-1zM254 320h1v1h-1zM143 321h1v1h-1z"/><path fill="#0f0" d="M108 344h4v4h-4zM140 344h4v4h-4zM151 344h4v4h-4zM151 356h4v4h-4zM262 344h6v4h-6zM262 356h6v4h-6zM274 344h4v4h-4zM297 344h4v4h-4zM408 344h4v4h-4zM108 356h5v4h-5zM119 356h4v4h-4zM130 356h5v4h-5zM140 356h6v4h-6zM275 356h4v4h-4zM285 356h5v4h-5zM295 356h5v4h-5zM307 356h5v4h-5zM385 356h6v4h-6zM396 356h5v4h-5zM407 356h5v4h-5zM419 356h4v4h-4zM253 368h4v4h-4zM307 368h4v4h-4zM328 368h4v4h-4zM375 368h5v4h-5zM430 368h4v4h-4zM452 368h4v4h-4zM463 368h5v4h-5zM242 380h4v4h-4zM429 380h5v4h-5zM440 380h5v4h-5zM485 380h4v4h-4zM219 404h5v4h-5zM230 428h4v4h-4z"/></g>
<defs>
<filter id="thr" x="0" y="0" width="640" height="480" filterUnits="userSpaceOnUse"><feComponentTransfer><feFuncA type="discrete" tableValues="0 0 0 1 1"/></feComponentTransfer></filter>
<filter id="thr2" x="0" y="0" width="640" height="480" filterUnits="userSpaceOnUse"><feComponentTransfer><feFuncA type="discrete" tableValues="0 0 0 0 1 1 1 1 1 1"/></feComponentTransfer></filter>
</defs>
<g filter="url(#thr)" transform="translate(0.2 0)"><text y="23" font-size="13.333" fill="#ff0"><tspan x="84 92 100 108">8916</tspan><tspan x="268 276 281.75 292">67.4</tspan><tspan x="300.29" font-family="Liberation Sans">0</tspan><tspan x="308">S</tspan><tspan x="332 340 348 353.75 364 372 380">138.73E</tspan><tspan x="404 412 420">155</tspan><tspan x="428.29" font-family="Liberation Sans">0</tspan><tspan x="436">M</tspan></text><text y="36" font-size="13.333" fill="#ff0"><tspan x="68">2</tspan><tspan x="76.29" font-family="Liberation Sans">0</tspan><tspan x="92 100 108">Apr</tspan><tspan x="124">2</tspan><tspan x="132.29" font-family="Liberation Sans">0</tspan><tspan x="140 148 156 164 172">15/12</tspan><tspan x="180.29 188.29 196.29 204.29" font-family="Liberation Sans">0000</tspan><tspan x="212 220 228">UTC</tspan><tspan x="244">-</tspan><tspan x="260 268">23</tspan><tspan x="284 292 300">Apr</tspan><tspan x="316">2</tspan><tspan x="324.29" font-family="Liberation Sans">0</tspan><tspan x="332 340 348">15/</tspan><tspan x="356.29 364.29 372.29 380.29 388.29 396.29" font-family="Liberation Sans">000000</tspan><tspan x="404 412 420">UTC</tspan></text><text y="448" font-size="13.333" fill="#ff0"><tspan x="60.29" font-family="Liberation Sans">0</tspan><tspan x="68">6</tspan></text><text y="448" font-size="13.333" fill="#ff0"><tspan x="99 107">12</tspan></text><text y="448" font-size="13.333" fill="#ff0"><tspan x="138 146">18</tspan></text><text y="448" font-size="13.333" fill="#ff0"><tspan x="177.29 185.29" font-family="Liberation Sans">00</tspan></text><text y="448" font-size="13.333" fill="#ff0"><tspan x="216.29" font-family="Liberation Sans">0</tspan><tspan x="224">6</tspan></text><text y="448" font-size="13.333" fill="#ff0"><tspan x="256 264">12</tspan></text><text y="448" font-size="13.333" fill="#ff0"><tspan x="295 303">18</tspan></text><text y="448" font-size="13.333" fill="#ff0"><tspan x="334.29 342.29" font-family="Liberation Sans">00</tspan></text><text y="448" font-size="13.333" fill="#ff0"><tspan x="373.29" font-family="Liberation Sans">0</tspan><tspan x="381">6</tspan></text><text y="448" font-size="13.333" fill="#ff0"><tspan x="412 420">12</tspan></text><text y="448" font-size="13.333" fill="#ff0"><tspan x="452 460">18</tspan></text><text y="448" font-size="13.333" fill="#ff0"><tspan x="491.29 499.29" font-family="Liberation Sans">00</tspan></text><text y="448" font-size="13.333" fill="#ff0"><tspan x="530.29" font-family="Liberation Sans">0</tspan><tspan x="538">6</tspan></text><text y="461" font-size="13.333" fill="#ff0"><tspan x="161 169">21</tspan><tspan x="185 193 201">Apr</tspan></text><text y="461" font-size="13.333" fill="#ff0"><tspan x="318 326">22</tspan><tspan x="342 350 358">Apr</tspan></text><text y="461" font-size="13.333" fill="#ff0"><tspan x="475 483">23</tspan><tspan x="499 507 515">Apr</tspan></text></g>
<g filter="url(#thr2)" transform="translate(0.45 0.45)"><text y="58" font-size="10" fill="#f00"><tspan x="553 559 565 570.5">-25.</tspan></text><text y="70" font-size="10" fill="#f00"><tspan x="553 559 565 570.5">-26.</tspan></text><text y="82" font-size="10" fill="#f00"><tspan x="553 559 565 570.5">-27.</tspan></text><text y="94" font-size="10" fill="#f00"><tspan x="553 559 565 570.5">-28.</tspan></text><text y="106" font-size="10" fill="#f00"><tspan x="553 559 565 570.5">-29.</tspan></text><text y="118" font-size="10" fill="#f00"><tspan x="553 559">-3</tspan><tspan x="570.5">.</tspan></text><text y="130" font-size="10" fill="#f00"><tspan x="553 559 565 570.5">-31.</tspan></text><text y="142" font-size="10" fill="#f00"><tspan x="553 559 565 570.5">-32.</tspan></text><text y="159" font-size="10" fill="#f00"><tspan x="553">8</tspan><tspan x="565 570.5">5.</tspan></text><text y="175" font-size="10" fill="#f00"><tspan x="553">8</tspan><tspan x="570.5">.</tspan></text><text y="191" font-size="10" fill="#f00"><tspan x="553 559 565 570.5">795.</tspan></text><text y="207" font-size="10" fill="#f00"><tspan x="553 559">79</tspan><tspan x="570.5">.</tspan></text><text y="223" font-size="10" fill="#f00"><tspan x="553 559 565 570.5">785.</tspan></text><text y="239" font-size="10" fill="#f00"><tspan x="553 559">78</tspan><tspan x="570.5">.</tspan></text><text y="253" font-size="10" fill="#f00"><tspan x="559">6</tspan><tspan x="570.5">.</tspan></text><text y="267" font-size="10" fill="#f00"><tspan x="559">5</tspan><tspan x="570.5">.</tspan></text><text y="281" font-size="10" fill="#f00"><tspan x="559">4</tspan><tspan x="570.5">.</tspan></text><text y="295" font-size="10" fill="#f00"><tspan x="559">3</tspan><tspan x="570.5">.</tspan></text><text y="309" font-size="10" fill="#f00"><tspan x="559">2</tspan><tspan x="570.5">.</tspan></text><text y="323" font-size="10" fill="#f00"><tspan x="559">1</tspan><tspan x="570.5">.</tspan></text><text y="336" font-size="10" fill="#f00"><tspan x="570.5">.</tspan></text><text y="349" font-size="10" fill="#f00"><tspan x="559 565 570.5">77.</tspan></text><text y="361" font-size="10" fill="#f00"><tspan x="559 565 570.5">76.</tspan></text><text y="373" font-size="10" fill="#f00"><tspan x="559 565 570.5">75.</tspan></text><text y="385" font-size="10" fill="#f00"><tspan x="559 565 570.5">74.</tspan></text><text y="397" font-size="10" fill="#f00"><tspan x="559 565 570.5">73.</tspan></text><text y="409" font-size="10" fill="#f00"><tspan x="559 565 570.5">72.</tspan></text><text y="421" font-size="10" fill="#f00"><tspan x="559 565 570.5">71.</tspan></text><text y="433" font-size="10" fill="#f00"><tspan x="559">7</tspan><tspan x="570.5">.</tspan></text><text y="93" font-size="10" fill="#f00"><tspan x="588 594 600 606">T(C)</tspan></text><text y="190" font-size="10" fill="#f00"><tspan x="588 594 600">Pre</tspan><tspan x="612 618 624 630">(mb)</tspan></text><text y="287" font-size="10" fill="#f00"><tspan x="588 594 600 606 612 618 624 630">SPD(MPS)</tspan></text><text y="384" font-size="10" fill="#f00"><tspan x="588 594 600 606 612">RH(%)</tspan></text></g>
<g filter="url(#thr2)" transform="translate(0.45 0.45)"><text y="58" font-size="10" fill="#f00" style="font-family:&quot;Liberation Sans&quot;"><tspan x="577.33">0</tspan></text><text y="70" font-size="10" fill="#f00" style="font-family:&quot;Liberation Sans&quot;"><tspan x="577.33">0</tspan></text><text y="82" font-size="10" fill="#f00" style="font-family:&quot;Liberation Sans&quot;"><tspan x="577.33">0</tspan></text><text y="94" font-size="10" fill="#f00" style="font-family:&quot;Liberation Sans&quot;"><tspan x="577.33">0</tspan></text><text y="106" font-size="10" fill="#f00" style="font-family:&quot;Liberation Sans&quot;"><tspan x="577.33">0</tspan></text><text y="118" font-size="10" fill="#f00" style="font-family:&quot;Liberation Sans&quot;"><tspan x="565.33">0</tspan><tspan x="577.33">0</tspan></text><text y="130" font-size="10" fill="#f00" style="font-family:&quot;Liberation Sans&quot;"><tspan x="577.33">0</tspan></text><text y="142" font-size="10" fill="#f00" style="font-family:&quot;Liberation Sans&quot;"><tspan x="577.33">0</tspan></text><text y="159" font-size="10" fill="#f00" style="font-family:&quot;Liberation Sans&quot;"><tspan x="559.33">0</tspan><tspan x="577.33">0</tspan></text><text y="175" font-size="10" fill="#f00" style="font-family:&quot;Liberation Sans&quot;"><tspan x="559.33 565.33">00</tspan><tspan x="577.33">0</tspan></text><text y="191" font-size="10" fill="#f00" style="font-family:&quot;Liberation Sans&quot;"><tspan x="577.33">0</tspan></text><text y="207" font-size="10" fill="#f00" style="font-family:&quot;Liberation Sans&quot;"><tspan x="565.33">0</tspan><tspan x="577.33">0</tspan></text><text y="223" font-size="10" fill="#f00" style="font-family:&quot;Liberation Sans&quot;"><tspan x="577.33">0</tspan></text><text y="239" font-size="10" fill="#f00" style="font-family:&quot;Liberation Sans&quot;"><tspan x="565.33">0</tspan><tspan x="577.33">0</tspan></text><text y="253" font-size="10" fill="#f00" style="font-family:&quot;Liberation Sans&quot;"><tspan x="565.33">0</tspan><tspan x="577.33">0</tspan></text><text y="267" font-size="10" fill="#f00" style="font-family:&quot;Liberation Sans&quot;"><tspan x="565.33">0</tspan><tspan x="577.33">0</tspan></text><text y="281" font-size="10" fill="#f00" style="font-family:&quot;Liberation Sans&quot;"><tspan x="565.33">0</tspan><tspan x="577.33">0</tspan></text><text y="295" font-size="10" fill="#f00" style="font-family:&quot;Liberation Sans&quot;"><tspan x="565.33">0</tspan><tspan x="577.33">0</tspan></text><text y="309" font-size="10" fill="#f00" style="font-family:&quot;Liberation Sans&quot;"><tspan x="565.33">0</tspan><tspan x="577.33">0</tspan></text><text y="323" font-size="10" fill="#f00" style="font-family:&quot;Liberation Sans&quot;"><tspan x="565.33">0</tspan><tspan x="577.33">0</tspan></text><text y="336" font-size="10" fill="#f00" style="font-family:&quot;Liberation Sans&quot;"><tspan x="565.33">0</tspan><tspan x="577.33">0</tspan></text><text y="349" font-size="10" fill="#f00" style="font-family:&quot;Liberation Sans&quot;"><tspan x="577.33">0</tspan></text><text y="361" font-size="10" fill="#f00" style="font-family:&quot;Liberation Sans&quot;"><tspan x="577.33">0</tspan></text><text y="373" font-size="10" fill="#f00" style="font-family:&quot;Liberation Sans&quot;"><tspan x="577.33">0</tspan></text><text y="385" font-size="10" fill="#f00" style="font-family:&quot;Liberation Sans&quot;"><tspan x="577.33">0</tspan></text><text y="397" font-size="10" fill="#f00" style="font-family:&quot;Liberation Sans&quot;"><tspan x="577.33">0</tspan></text><text y="409" font-size="10" fill="#f00" style="font-family:&quot;Liberation Sans&quot;"><tspan x="577.33">0</tspan></text><text y="421" font-size="10" fill="#f00" style="font-family:&quot;Liberation Sans&quot;"><tspan x="577.33">0</tspan></text><text y="433" font-size="10" fill="#f00" style="font-family:&quot;Liberation Sans&quot;"><tspan x="565.33">0</tspan><tspan x="577.33">0</tspan></text></g>
<g filter="url(#thr2)" transform="translate(0.45 0)"><text x="15" y="478" font-size="11.8" fill="#ff0" text-anchor="start">2</text></g>
</svg>
</body></html>
